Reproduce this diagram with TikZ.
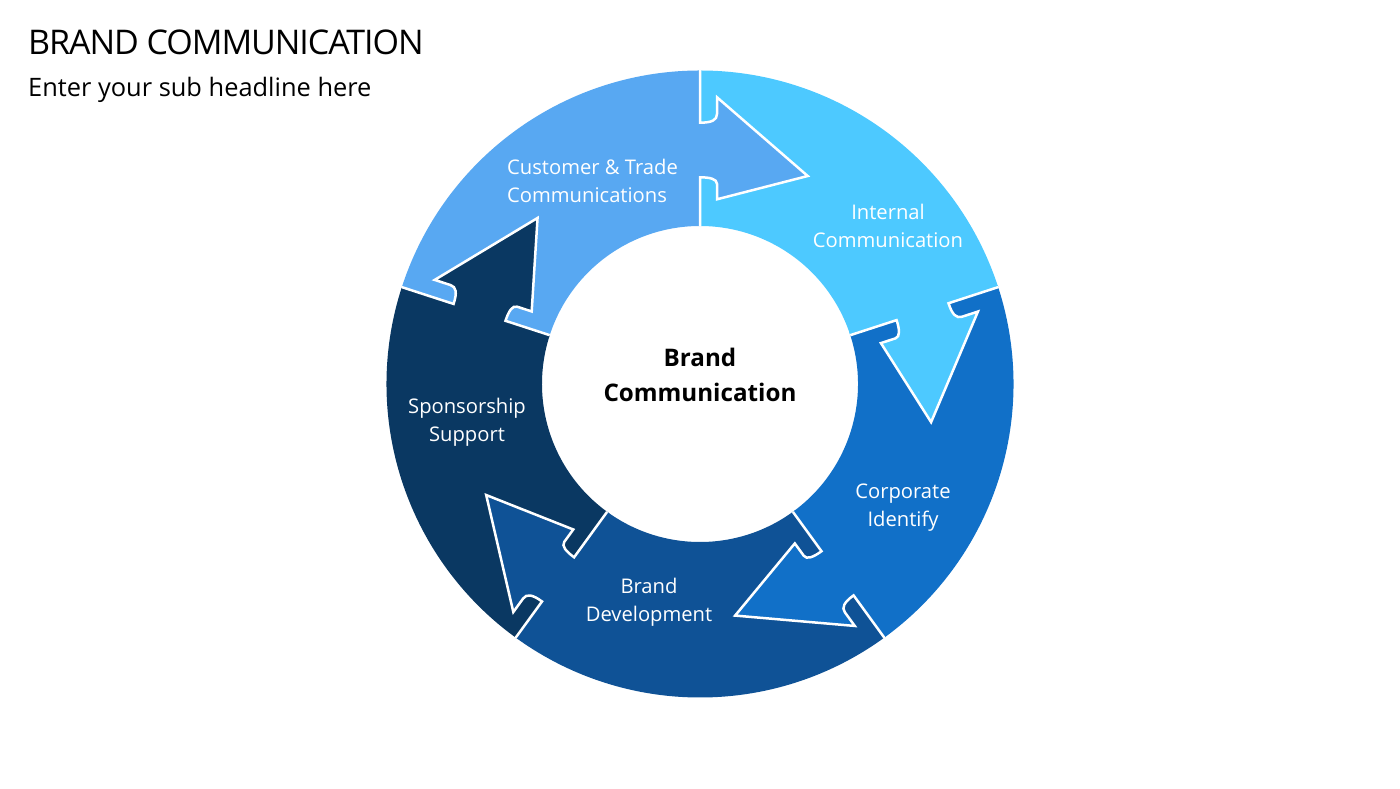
\documentclass[tikz,border=0pt]{standalone}
\usepackage{fontspec}
\setmainfont{Open Sans}
\usepackage{xcolor}
\definecolor{custblue}{HTML}{58A8F2}
\definecolor{internblue}{HTML}{4DC9FF}
\definecolor{corpblue}{HTML}{1170C8}
\definecolor{devblue}{HTML}{0F5296}
\definecolor{sponsblue}{HTML}{0A3862}
\tikzset{
  seglabel/.style={text=white,align=center,inner sep=0pt,font=\fontsize{20.2}{28}\selectfont},
  armline/.style={draw=white,line width=2.5pt,line join=miter}
}
\newcommand{\armpath}{(0,314) -- (0,{261.3+\dr}) .. controls (12,{261.3+\dr}) and (17,{264+\dr}) .. (17,{270+\dr}) -- (17,{286.7+\dr})
  -- (107.7,{208+\dr}) -- (17,{184.7+\dr}) -- (17,{200+\dr}) .. controls (17,{205+\dr}) and (10,{206.7+\dr}) .. (0,{206.7+\dr}) -- (0,158)}
\begin{document}
\begin{tikzpicture}[x=1pt,y=1pt]
  \useasboundingbox (0,0) rectangle (1400,788);
  \coordinate (hub) at (700,404);
  % ring
  \foreach \rot/\col in {0/custblue,-72/internblue,-144/corpblue,-216/devblue,-288/sponsblue}{
    \begin{scope}[shift={(hub)},rotate=\rot]
      \fill[\col] (162:313.5) arc (162:90:313.5) -- (90:158) arc (90:162:158) -- cycle;
    \end{scope}
  }
  % arrows
  \foreach \rot/\col/\dr in {0/custblue/0,-72/internblue/0,-144/corpblue/0,-216/devblue/7.5,-288/sponsblue/-2.2}{
    \begin{scope}[shift={(hub)},rotate=\rot]
      \fill[\col] \armpath -- (-3,158) -- (-3,313) -- cycle;
      \path[armline] \armpath;
    \end{scope}
  }
  \node[anchor=west,inner sep=0pt,font=\fontsize{34}{34}\selectfont\addfontfeature{LetterSpace=-3.1}] (title) at (28,746) {BRAND COMMUNICATION};
  \node[anchor=west,inner sep=0pt,font=\fontsize{25.4}{25.4}\selectfont] (subtitle) at (28,698) {Enter your sub headline here};
  \node[seglabel,align=left,anchor=west] (customer) at (507,607) {Customer \& Trade\\Communications};
  \node[seglabel] (internal) at (888,562) {Internal\\Communication};
  \node[seglabel] (corporate) at (903,280) {Corporate\\Identify};
  \node[seglabel] (branddev) at (649,186) {Brand\\Development};
  \node[seglabel] (sponsor) at (467,366) {Sponsorship\\Support};
  \node[align=center,font=\fontsize{24.2}{35}\selectfont\bfseries] (centre) at (700,413) {Brand\\Communication};
\end{tikzpicture}
\end{document}
